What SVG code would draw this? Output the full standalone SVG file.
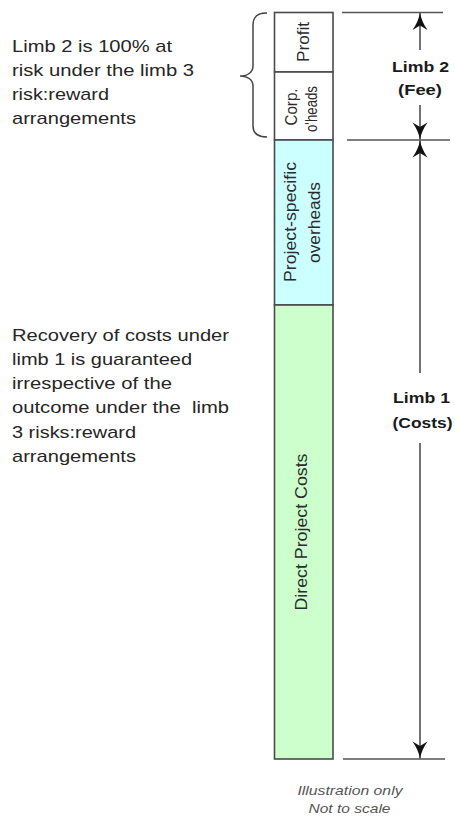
<svg xmlns="http://www.w3.org/2000/svg" width="455" height="816" viewBox="0 0 455 816">
  <style>
    .note { font-family: "Liberation Sans", Arial, sans-serif; font-size: 17px; fill: #262626; white-space: pre; }
    .vlab { font-family: "Liberation Sans", Arial, sans-serif; font-size: 16.5px; fill: #2b2b2b; text-anchor: middle; }
    .vsm { font-family: "Liberation Sans", Arial, sans-serif; font-size: 16px; fill: #2b2b2b; text-anchor: middle; }
    .limb { font-family: "Liberation Sans", Arial, sans-serif; font-size: 15.5px; font-weight: bold; fill: #1a1a1a; text-anchor: middle; }
    .foot { font-family: "Liberation Sans", Arial, sans-serif; font-size: 13.5px; font-style: italic; fill: #555; text-anchor: middle; }
    .box { stroke: #4a4a4a; stroke-width: 1.6; }
    .rule { stroke: #555; stroke-width: 1.6; fill: none; }
    .shaft { stroke: #444; stroke-width: 1.5; fill: none; }
    .brace { stroke: #444; stroke-width: 1.5; fill: none; }
  </style>
  <defs>
    <!-- concave arrowhead, tip at the line end -->
    <marker id="head" viewBox="-18 -8 19 16" refX="0" refY="0" markerWidth="19" markerHeight="16" markerUnits="userSpaceOnUse" orient="auto">
      <path d="M0,0 Q-9,1.8 -17,7.5 L-12.5,0 L-17,-7.5 Q-9,-1.8 0,0 Z" fill="#111"/>
    </marker>
  </defs>
  <rect width="455" height="816" fill="#fff"/>

  <!-- left-hand notes -->
  <g id="note-limb2">
    <text class="note" x="12" y="52" textLength="160" lengthAdjust="spacingAndGlyphs">Limb 2 is 100% at</text>
    <text class="note" x="12" y="76" textLength="182" lengthAdjust="spacingAndGlyphs">risk under the limb 3</text>
    <text class="note" x="12" y="100" textLength="97" lengthAdjust="spacingAndGlyphs">risk:reward</text>
    <text class="note" x="12" y="124" textLength="124" lengthAdjust="spacingAndGlyphs">arrangements</text>
  </g>
  <g id="note-limb1">
    <text class="note" x="12" y="341" textLength="217" lengthAdjust="spacingAndGlyphs">Recovery of costs under</text>
    <text class="note" x="12" y="365" textLength="180" lengthAdjust="spacingAndGlyphs">limb 1 is guaranteed</text>
    <text class="note" x="12" y="389" textLength="160" lengthAdjust="spacingAndGlyphs">irrespective of the</text>
    <text class="note" x="12" y="413" textLength="217" lengthAdjust="spacingAndGlyphs">outcome under the  limb</text>
    <text class="note" x="12" y="437.5" textLength="124" lengthAdjust="spacingAndGlyphs">3 risks:reward</text>
    <text class="note" x="12" y="462" textLength="124" lengthAdjust="spacingAndGlyphs">arrangements</text>
  </g>

  <!-- brace grouping profit and corporate overheads -->
  <g id="brace">
    <path class="brace" d="M267,13 C258,13 253,16 253,25 L253,66 C253,72 248,76 240,76 C248,76 253,80 253,86 L253,126 C253,133 258,137 267,137"/>
  </g>

  <!-- stacked cost bar -->
  <g id="profit">
    <rect class="box" x="274.5" y="12.5" width="58.5" height="59.5" fill="#fff"/>
    <text class="vlab" transform="translate(309,42) rotate(-90)" textLength="40" lengthAdjust="spacingAndGlyphs">Profit</text>
  </g>
  <g id="corp-overheads">
    <rect class="box" x="274.5" y="72" width="58.5" height="68" fill="#fff"/>
    <text class="vsm" transform="translate(296.5,107) rotate(-90)" textLength="37" lengthAdjust="spacingAndGlyphs">Corp.</text>
    <text class="vsm" transform="translate(317,109) rotate(-90)" textLength="46" lengthAdjust="spacingAndGlyphs">o'heads</text>
  </g>
  <g id="project-overheads">
    <rect class="box" x="274.5" y="140" width="58.5" height="165" fill="#ccffff"/>
    <text class="vlab" transform="translate(295.5,222) rotate(-90)" textLength="120" lengthAdjust="spacingAndGlyphs">Project-specific</text>
    <text class="vlab" transform="translate(320,222.5) rotate(-90)" textLength="81" lengthAdjust="spacingAndGlyphs">overheads</text>
  </g>
  <g id="direct-costs">
    <rect class="box" x="274.5" y="305" width="58.5" height="454" fill="#ccffcc"/>
    <text class="vlab" transform="translate(306.5,532) rotate(-90)" textLength="157" lengthAdjust="spacingAndGlyphs">Direct Project Costs</text>
  </g>

  <!-- dimension lines -->
  <g id="connectors">
    <line class="rule" x1="342" y1="12.5" x2="443" y2="12.5"/>
    <line class="rule" x1="347" y1="140" x2="450" y2="140"/>
    <line class="rule" x1="343" y1="759" x2="445" y2="759"/>
    <line class="shaft" x1="420" y1="50" x2="420" y2="13" marker-end="url(#head)"/>
    <line class="shaft" x1="420" y1="105" x2="420" y2="139.5" marker-end="url(#head)"/>
    <line class="shaft" x1="420" y1="373" x2="420" y2="140.5" marker-end="url(#head)"/>
    <line class="shaft" x1="420" y1="443" x2="420" y2="758.5" marker-end="url(#head)"/>
  </g>

  <g id="label-limb2">
    <text class="limb" x="420.5" y="72" textLength="57" lengthAdjust="spacingAndGlyphs">Limb 2</text>
    <text class="limb" x="420" y="94.5" textLength="44" lengthAdjust="spacingAndGlyphs">(Fee)</text>
  </g>
  <g id="label-limb1">
    <text class="limb" x="421.5" y="403" textLength="57" lengthAdjust="spacingAndGlyphs">Limb 1</text>
    <text class="limb" x="422.5" y="428" textLength="60" lengthAdjust="spacingAndGlyphs">(Costs)</text>
  </g>

  <g id="footnote">
    <text class="foot" x="350" y="794.5" textLength="105" lengthAdjust="spacingAndGlyphs">Illustration only</text>
    <text class="foot" x="349.5" y="812.5" textLength="82" lengthAdjust="spacingAndGlyphs">Not to scale</text>
  </g>
</svg>
